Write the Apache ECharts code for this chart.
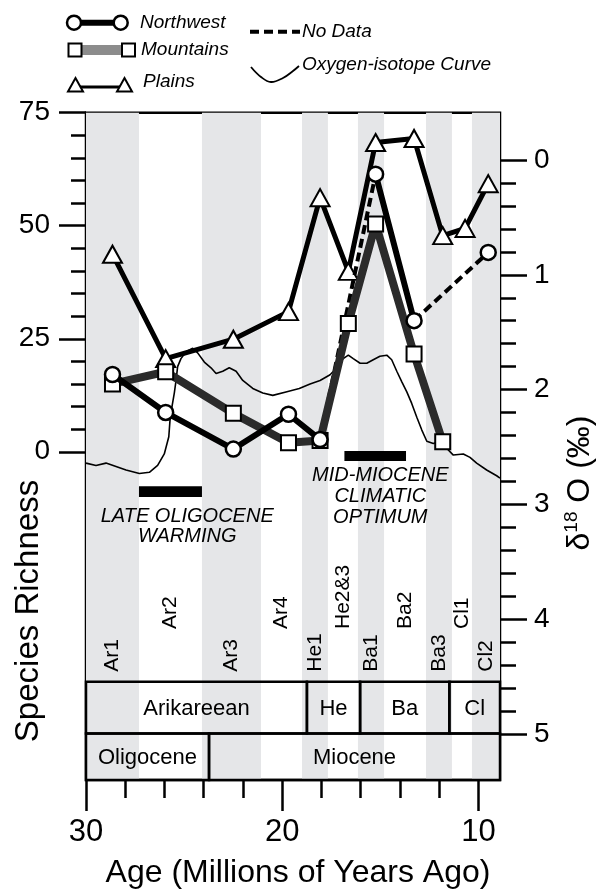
<!DOCTYPE html>
<html>
<head>
<meta charset="utf-8">
<script src="https://cdn.jsdelivr.net/npm/echarts@6.0.0/dist/echarts.min.js"></script>
<style>
  html, body { margin: 0; padding: 0; background: #fff; }
  #chart { width: 598px; height: 893px; }
</style>
</head>
<body>
<div id="chart"></div>
<script>
// ---- data (ages in Ma) ----
var zoneNames = ['Ar1', 'Ar2', 'Ar3', 'Ar4', 'He1', 'He2&3', 'Ba1', 'Ba2', 'Ba3', 'Cl1', 'Cl2'];
var zoneEdges = [30, 27.3, 24.09, 21.08, 18.99, 17.67, 16.14, 14.81, 12.67, 11.35, 10.33, 8.9];
var stageNames = ['Arikareean', 'He', 'Ba', 'Cl'];
var stageEdges = [30, 18.74, 16.03, 11.48, 8.9];
var epochNames = ['Oligocene', 'Miocene'];
var epochEdges = [30, 23.73, 8.9];

var sampleAges = [28.65, 25.94, 22.49, 19.68, 18.07, 16.63, 15.24, 13.28, 11.82, 10.68, 9.5];
var plains     = [43.7, 20.6, 24.9, 31.0, 56.2, 39.9, 68.4, 69.3, 47.8, 49.4, 59.3];
var mountains  = [15.0, 17.7, 8.5, 2.0, 2.5, 28.4, 50.4, 21.6, 2.2, null, null];
var northwest  = [17.1, 8.7, 0.6, 8.3, 2.7, null, 61.4, 29.0, null, null, 44.1];

var isoAge = [30.00, 29.49, 28.98, 28.47, 27.96, 27.28, 26.77, 26.35, 26.01, 25.78, 25.72, 25.62, 25.50, 25.41, 25.33,
  25.16, 24.90, 24.56, 24.31, 23.97, 23.63, 23.37, 23.03, 22.70, 22.35, 22.01, 21.50, 20.99, 20.48, 19.81, 19.13,
  18.58, 18.07, 17.56, 17.22, 16.89, 16.63, 16.38, 16.03, 15.69, 15.36, 15.02, 14.67, 14.42, 14.16, 13.91, 13.65,
  13.40, 13.14, 12.89, 12.63, 12.30, 11.96, 11.62, 11.28, 10.77, 10.43, 10.09, 9.58, 9.07, 8.90];
var isoVal = [2.64, 2.66, 2.64, 2.67, 2.70, 2.73, 2.72, 2.66, 2.56, 2.41, 2.27, 2.15, 2.03, 1.92, 1.80,
  1.73, 1.67, 1.64, 1.68, 1.76, 1.81, 1.86, 1.84, 1.81, 1.84, 1.92, 1.99, 2.03, 2.05, 2.02, 1.99,
  1.95, 1.92, 1.87, 1.81, 1.73, 1.70, 1.73, 1.77, 1.77, 1.74, 1.71, 1.70, 1.74, 1.84, 1.93, 2.02,
  2.12, 2.24, 2.35, 2.45, 2.47, 2.45, 2.51, 2.57, 2.56, 2.59, 2.64, 2.70, 2.75, 2.77];

var warmingBar = [27.3, 24.09];   // late Oligocene warming
var optimumBar = [16.83, 13.69];  // mid-Miocene climatic optimum

// tick labels
var ageMajor = [30, 20, 10];
var ageMinor = [28, 26, 24, 22, 18, 16, 14, 12];
var richMajor = [0, 25, 50, 75];
var richMinor = [5, 10, 15, 20, 30, 35, 40, 45, 55, 60, 65, 70];
var d18Major = [0, 1, 2, 3, 4, 5];
var d18Minor = [0.2, 0.4, 0.6, 0.8, 1.2, 1.4, 1.6, 1.8, 2.2, 2.4, 2.6, 2.8, 3.2, 3.4, 3.6, 3.8, 4.2, 4.4, 4.6, 4.8];

// ---- layout (in species-richness units, below the data) ----
var STAGE_TOP = -50.85, STAGE_MID = -62.3, STAGE_BOT = -72.6;
var LABEL_LOW = -48.66, LABEL_HIGH = -39.2;
var FONT = 'Liberation Sans, Arial, sans-serif';

function pairs(ages, vals) {
  return ages.map(function (a, i) { return vals[i] == null ? [a, '-'] : [a, vals[i]]; });
}
// dashed "no data" links across gaps
function gapLinks(ages, vals) {
  var out = [], last = -1;
  for (var i = 0; i < vals.length; i++) {
    if (vals[i] == null) continue;
    if (last >= 0 && i - last > 1) out.push([ages[last], vals[last]], [ages[i], vals[i]], '-');
    last = i;
  }
  return out;
}

var chart = echarts.init(document.getElementById('chart'));

var tickStyle = { color: '#000', width: 2.5 };

var option = {
  animation: false,
  grid: {
    left: 86, right: 98, top: 112.7, bottom: 113,
    show: true, borderColor: '#000', borderWidth: 2.5, backgroundColor: 'transparent'
  },
  xAxis: [{
    type: 'value', min: 8.9, max: 30, inverse: true, position: 'bottom',
    axisLine: { show: false, onZero: false }, splitLine: { show: false },
    axisTick: { show: true, customValues: ageMajor, length: 31, lineStyle: tickStyle },
    axisLabel: { customValues: ageMajor, fontSize: 31, color: '#000', fontFamily: FONT, margin: 37 }
  }, {
    type: 'value', min: 8.9, max: 30, inverse: true, position: 'bottom', offset: 0,
    axisLine: { show: false, onZero: false }, splitLine: { show: false },
    axisTick: { show: true, customValues: ageMinor, length: 18, lineStyle: tickStyle },
    axisLabel: { show: false }
  }],
  yAxis: [{
    type: 'value', min: STAGE_BOT, max: 75, position: 'left',
    axisLine: { show: false, onZero: false }, splitLine: { show: false },
    axisTick: { show: true, customValues: richMajor, length: 27, lineStyle: tickStyle },
    axisLabel: { customValues: richMajor, fontSize: 28, color: '#000', fontFamily: FONT, margin: 36 }
  }, {
    type: 'value', min: -0.412, max: 5.40, inverse: true, position: 'right',
    axisLine: { show: false, onZero: false }, splitLine: { show: false },
    axisTick: { show: true, customValues: d18Major, length: 27, lineStyle: tickStyle },
    axisLabel: { customValues: d18Major, fontSize: 28, color: '#000', fontFamily: FONT, margin: 34 }
  }, {
    type: 'value', min: STAGE_BOT, max: 75, position: 'left', offset: 0,
    axisLine: { show: false, onZero: false }, splitLine: { show: false },
    axisTick: { show: true, customValues: richMinor, length: 15, lineStyle: tickStyle },
    axisLabel: { show: false }
  }, {
    type: 'value', min: -0.412, max: 5.40, inverse: true, position: 'right', offset: 0,
    axisLine: { show: false, onZero: false }, splitLine: { show: false },
    axisTick: { show: true, customValues: d18Minor, length: 16, lineStyle: tickStyle },
    axisLabel: { show: false }
  }],
  series: [
    // gray/white biochron bands
    {
      type: 'custom', z: 0, silent: true,
      data: zoneNames.map(function (n, i) { return [zoneEdges[i], zoneEdges[i + 1]]; }),
      renderItem: function (params, api) {
        var a = api.coord([api.value(0), 0]);
        var b = api.coord([api.value(1), 0]);
        var cs = params.coordSys;
        return {
          type: 'rect',
          shape: { x: a[0], y: cs.y, width: b[0] - a[0], height: cs.height },
          style: { fill: params.dataIndex % 2 === 0 ? '#e5e6e8' : 'rgba(0,0,0,0)' }
        };
      }
    },
    // zone labels
    {
      type: 'custom', z: 1, silent: true,
      data: zoneNames.map(function (n, i) {
        return [(zoneEdges[i] + zoneEdges[i + 1]) / 2, i % 2 ? LABEL_HIGH : LABEL_LOW];
      }),
      renderItem: function (params, api) {
        var p = api.coord([api.value(0), api.value(1)]);
        return {
          type: 'text', x: p[0], y: p[1], rotation: Math.PI / 2,
          style: {
            text: zoneNames[params.dataIndex], fill: '#000', fontSize: 21, fontFamily: FONT,
            align: 'left', verticalAlign: 'middle'
          }
        };
      }
    },
    // stage & epoch boxes
    {
      type: 'custom', z: 1, silent: true,
      data: stageNames.map(function (n, i) { return [stageEdges[i], stageEdges[i + 1], STAGE_TOP, STAGE_MID]; })
        .concat(epochNames.map(function (n, i) { return [epochEdges[i], epochEdges[i + 1], STAGE_MID, STAGE_BOT]; })),
      renderItem: function (params, api) {
        var a = api.coord([api.value(0), api.value(2)]);
        var b = api.coord([api.value(1), api.value(3)]);
        var names = stageNames.concat(epochNames);
        return {
          type: 'group',
          children: [{
            type: 'rect',
            shape: { x: a[0], y: a[1], width: b[0] - a[0], height: b[1] - a[1] },
            style: { fill: 'rgba(0,0,0,0)', stroke: '#000', lineWidth: 2.5 }
          }, {
            type: 'text', x: (a[0] + b[0]) / 2, y: (a[1] + b[1]) / 2 + 1,
            style: {
              text: names[params.dataIndex], fill: '#000', fontSize: 22, fontFamily: FONT,
              align: 'center', verticalAlign: 'middle'
            }
          }]
        };
      }
    },
    // climate event bars and captions
    {
      type: 'custom', z: 1, silent: true,
      data: [[warmingBar[0], warmingBar[1], -7.6, -10.0], [optimumBar[0], optimumBar[1], 0.15, -2.06]],
      renderItem: function (params, api) {
        var a = api.coord([api.value(0), api.value(2)]);
        var b = api.coord([api.value(1), api.value(3)]);
        return {
          type: 'rect',
          shape: { x: a[0], y: a[1], width: b[0] - a[0], height: b[1] - a[1] },
          style: { fill: '#000' }
        };
      }
    },
    {
      type: 'custom', z: 1, silent: true,
      data: [[24.84, -14.4], [24.84, -18.8], [15.0, -5.15], [15.0, -9.95], [15.0, -14.5]],
      renderItem: function (params, api) {
        var lines = ['LATE OLIGOCENE', 'WARMING', 'MID-MIOCENE', 'CLIMATIC', 'OPTIMUM'];
        var p = api.coord([api.value(0), api.value(1)]);
        return {
          type: 'text', x: p[0], y: p[1],
          style: {
            text: lines[params.dataIndex], fill: '#000', fontSize: 20, fontStyle: 'italic',
            fontFamily: FONT, align: 'center', verticalAlign: 'middle'
          }
        };
      }
    },
    // oxygen-isotope curve
    {
      name: 'Oxygen-isotope Curve', type: 'line', yAxisIndex: 1, z: 3,
      data: isoAge.map(function (a, i) { return [a, isoVal[i]]; }),
      symbol: 'none', lineStyle: { color: '#000', width: 1.6 }
    },
    {
      name: 'Plains', type: 'line', z: 4,
      data: pairs(sampleAges, plains),
      symbol: 'triangle', symbolSize: [19, 17],
      itemStyle: { color: '#fff', borderColor: '#000', borderWidth: 2 },
      lineStyle: { color: '#000', width: 5 }
    },
    {
      name: 'No Data', type: 'line', z: 5,
      data: gapLinks(sampleAges, northwest),
      symbol: 'none', lineStyle: { color: '#000', width: 4, type: [9, 5] }
    },
    {
      name: 'Mountains', type: 'line', z: 6,
      data: pairs(sampleAges, mountains),
      symbol: 'rect', symbolSize: 15,
      itemStyle: { color: '#fff', borderColor: '#000', borderWidth: 2 },
      lineStyle: { color: '#2b2b2b', width: 8 }
    },
    {
      name: 'Northwest', type: 'line', z: 7,
      data: pairs(sampleAges, northwest),
      symbol: 'circle', symbolSize: 15,
      itemStyle: { color: '#fff', borderColor: '#000', borderWidth: 2.5 },
      lineStyle: { color: '#000', width: 6 }
    }
  ],
  graphic: { elements: [
    // legend
    { type: 'line', shape: { x1: 74, y1: 22.7, x2: 120.7, y2: 22.7 }, style: { stroke: '#000', lineWidth: 6 } },
    { type: 'circle', shape: { cx: 74, cy: 22.7, r: 7 }, style: { fill: '#fff', stroke: '#000', lineWidth: 2.5 } },
    { type: 'circle', shape: { cx: 120.7, cy: 22.7, r: 7 }, style: { fill: '#fff', stroke: '#000', lineWidth: 2.5 } },
    { type: 'text', x: 140, y: 22.7, style: { text: 'Northwest', fontSize: 19, fontStyle: 'italic', fontFamily: FONT, fill: '#000', verticalAlign: 'middle' } },

    { type: 'rect', shape: { x: 81, y: 45, width: 42, height: 10 }, style: { fill: '#8c8c8c' } },
    { type: 'rect', shape: { x: 68.5, y: 43.5, width: 13, height: 13 }, style: { fill: '#fff', stroke: '#000', lineWidth: 2 } },
    { type: 'rect', shape: { x: 122, y: 43.5, width: 13, height: 13 }, style: { fill: '#fff', stroke: '#000', lineWidth: 2 } },
    { type: 'text', x: 141, y: 50, style: { text: 'Mountains', fontSize: 19, fontStyle: 'italic', fontFamily: FONT, fill: '#000', verticalAlign: 'middle' } },

    { type: 'line', shape: { x1: 78, y1: 87, x2: 122, y2: 87 }, style: { stroke: '#000', lineWidth: 3 } },
    { type: 'polygon', shape: { points: [[75.5, 78], [83, 91.5], [68, 91.5]] }, style: { fill: '#fff', stroke: '#000', lineWidth: 2 } },
    { type: 'polygon', shape: { points: [[124.5, 78], [132, 91.5], [117, 91.5]] }, style: { fill: '#fff', stroke: '#000', lineWidth: 2 } },
    { type: 'text', x: 143, y: 81.7, style: { text: 'Plains', fontSize: 19, fontStyle: 'italic', fontFamily: FONT, fill: '#000', verticalAlign: 'middle' } },

    { type: 'line', shape: { x1: 250, y1: 31.7, x2: 300, y2: 31.7 }, style: { stroke: '#000', lineWidth: 4, lineDash: [9, 5] } },
    { type: 'text', x: 302, y: 31.7, style: { text: 'No Data', fontSize: 19, fontStyle: 'italic', fontFamily: FONT, fill: '#000', verticalAlign: 'middle' } },

    { type: 'polyline', shape: { points: [[251, 67], [261, 77], [271, 82], [283, 78], [293, 71], [299, 66]], smooth: 0.4 }, style: { stroke: '#000', lineWidth: 1.8, fill: null } },
    { type: 'text', x: 302, y: 65, style: { text: 'Oxygen-isotope Curve', fontSize: 19, fontStyle: 'italic', fontFamily: FONT, fill: '#000', verticalAlign: 'middle' } },

    // axis titles
    { type: 'text', x: 29, y: 611, rotation: Math.PI / 2, style: { text: 'Species Richness', fontSize: 33, fontFamily: FONT, fill: '#000', align: 'center', verticalAlign: 'middle' } },
    { type: 'text', x: 298, y: 873, style: { text: 'Age (Millions of Years Ago)', fontSize: 32, fontFamily: FONT, fill: '#000', align: 'center', verticalAlign: 'middle' } },
    { type: 'text', x: 580, y: 483, rotation: Math.PI / 2, style: {
      text: '{d|δ}{s|18}{d| O (‰)}', fill: '#000', align: 'center', verticalAlign: 'middle',
      rich: { d: { fontSize: 32, fontFamily: FONT, lineHeight: 36 }, s: { fontSize: 19, fontFamily: FONT, verticalAlign: 'top', lineHeight: 36 } }
    } }
  ] }
};

chart.setOption(option);
</script>
</body>
</html>
